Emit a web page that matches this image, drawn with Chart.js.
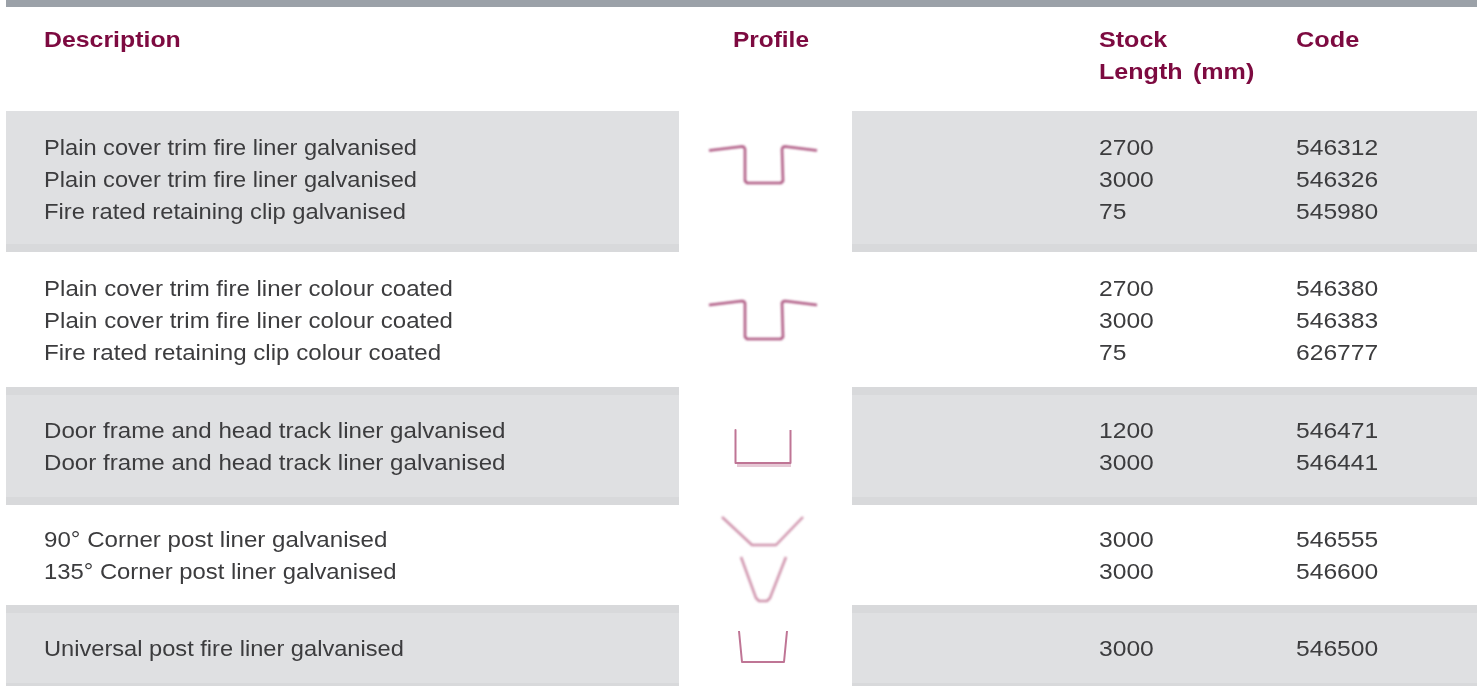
<!DOCTYPE html>
<html>
<head>
<meta charset="utf-8">
<title>Fire liner profiles</title>
<script src="https://cdn.jsdelivr.net/npm/chart.js@4"></script>
<style>
    html, body { margin: 0; padding: 0; background: #fff; }
    canvas { display: block; }
</style>
</head>
<body>
<canvas id="profileTable" width="1477" height="686"></canvas>
<script>
// Table content
const headers = ['Description', 'Profile', 'Stock', 'Length (mm)', 'Code'];
const descriptions = [
    'Plain cover trim fire liner galvanised',
    'Plain cover trim fire liner galvanised',
    'Fire rated retaining clip galvanised',
    'Plain cover trim fire liner colour coated',
    'Plain cover trim fire liner colour coated',
    'Fire rated retaining clip colour coated',
    'Door frame and head track liner galvanised',
    'Door frame and head track liner galvanised',
    '90° Corner post liner galvanised',
    '135° Corner post liner galvanised',
    'Universal post fire liner galvanised'
];
const stockLengths = ['2700', '3000', '75', '2700', '3000', '75', '1200', '3000', '3000', '3000', '3000'];
const codes = ['546312', '546326', '545980', '546380', '546383', '626777', '546471', '546441', '546555', '546600', '546500'];

// Layout, in page pixels (the axes below run 0-1477 and 0-686)
const rowBaselines = [155, 187, 219, 296, 328, 360, 438, 470, 547, 579, 656];
const rowStretch = [1.074, 1.074, 1.08, 1.093, 1.093, 1.097, 1.097, 1.097, 1.096, 1.083, 1.074];
const columnX = { description: 44, profile: 733, stock: 1099, code: 1296 };
const headerBaselines = [47, 79];
const bandSpans = [[6, 679], [852, 1477]];
const lightBands = [[111, 244], [395, 497], [613, 683]];
const darkBands = [[244, 252], [387, 395], [497, 505], [605, 613], [683, 686]];

// Profile outlines
const trimProfiles = [
    [[709, 150.5], [742, 146.5], [744, 147], [745, 149], [745, 181], [747, 183], [781, 183], [783, 181], [782, 149], [783, 147], [785, 146.5], [817, 150.5]],
    [[709, 305], [742, 301], [744, 301.5], [745, 303], [745, 337], [747, 339], [781, 339], [783, 337], [782, 303], [783, 301.5], [785, 301], [817, 305]]
];
const cornerProfiles = [
    [[722, 517], [752, 545], [776, 545], [803, 517]],
    [[741, 557], [756, 598], [759, 601], [767, 601], [770, 598], [786, 557]]
];
const crispProfiles = [
    [[735.5, 430], [735.5, 463], [790.5, 463], [790.5, 430]],
    [[739, 631], [742, 662], [784, 662], [787, 631]]
];
const profileShadow = [[737, 465.5], [791, 465.5]];

const LIGHT_GREY = '#dfe0e2';
const DARK_GREY = '#d8d9db';
const TOP_GREY = '#9ba1a8';
const HEADER_RED = '#7d0a40';
const BODY_TEXT = '#3c3c3e';

function bandDataset(x, y, colour) {
    return {
        data: [{ x: x[0], y: y[0] }, { x: x[1], y: y[0] }],
        fill: { target: { value: y[1] } },
        backgroundColor: colour,
        borderWidth: 0,
        pointRadius: 0
    };
}

function profileDataset(shape, colour, width, soft) {
    return {
        data: shape.map(p => ({ x: p[0], y: p[1] })),
        borderColor: colour,
        borderWidth: width,
        borderJoinStyle: 'round',
        fill: false,
        pointRadius: 0,
        soft: soft
    };
}

const datasets = [bandDataset([6, 1477], [0, 7], TOP_GREY)];
bandSpans.forEach(span => {
    lightBands.forEach(band => datasets.push(bandDataset(span, band, LIGHT_GREY)));
    darkBands.forEach(band => datasets.push(bandDataset(span, band, DARK_GREY)));
});
trimProfiles.forEach(shape => datasets.push(profileDataset(shape, '#ad5580', 2.5, true)));
cornerProfiles.forEach(shape => datasets.push(profileDataset(shape, '#cf93ac', 2.5, true)));
crispProfiles.forEach(shape => datasets.push(profileDataset(shape, '#bf7595', 2, false)));
datasets.push(profileDataset(profileShadow, '#e6c8d5', 3, false));

// Softens the scanned-looking profile lines
const softLines = {
    id: 'softLines',
    beforeDatasetDraw(chart, args) {
        if (chart.data.datasets[args.index].soft) chart.ctx.filter = 'blur(0.8px)';
    },
    afterDatasetDraw(chart) {
        chart.ctx.filter = 'none';
    }
};

// Draws the table's text on top of the bands
const tableText = {
    id: 'tableText',
    afterDatasetsDraw(chart) {
        const ctx = chart.ctx;
        const x = chart.scales.x;
        const y = chart.scales.y;

        // the source face is wider than Liberation Sans, so stretch it a little
        function put(text, column, baseline, stretch) {
            ctx.save();
            ctx.translate(x.getPixelForValue(column), y.getPixelForValue(baseline));
            ctx.scale(stretch, 1);
            ctx.fillText(text, 0, 0);
            ctx.restore();
        }

        ctx.save();
        ctx.textBaseline = 'alphabetic';

        ctx.font = 'bold 22px "Liberation Sans"';
        ctx.wordSpacing = '3px';
        ctx.fillStyle = HEADER_RED;
        put(headers[0], columnX.description, headerBaselines[0], 1.13);
        put(headers[1], columnX.profile, headerBaselines[0], 1.11);
        put(headers[2], columnX.stock, headerBaselines[0], 1.14);
        put(headers[3], columnX.stock, headerBaselines[1], 1.14);
        put(headers[4], columnX.code, headerBaselines[0], 1.15);

        ctx.font = '22px "Liberation Sans"';
        ctx.wordSpacing = '0px';
        ctx.fillStyle = BODY_TEXT;
        rowBaselines.forEach((base, i) => {
            put(descriptions[i], columnX.description, base, rowStretch[i]);
            put(stockLengths[i], columnX.stock, base, 1.12);
            put(codes[i], columnX.code, base, 1.12);
        });
        ctx.restore();
    }
};

new Chart(document.getElementById('profileTable').getContext('2d'), {
    type: 'line',
    data: { datasets: datasets },
    plugins: [softLines, tableText],
    options: {
        responsive: false,
        animation: false,
        layout: { padding: 0 },
        plugins: { legend: { display: false }, tooltip: { enabled: false } },
        scales: {
            x: { type: 'linear', display: false, min: 0, max: 1477 },
            y: { type: 'linear', display: false, min: 0, max: 686, reverse: true }
        }
    }
});
</script>
</body>
</html>
